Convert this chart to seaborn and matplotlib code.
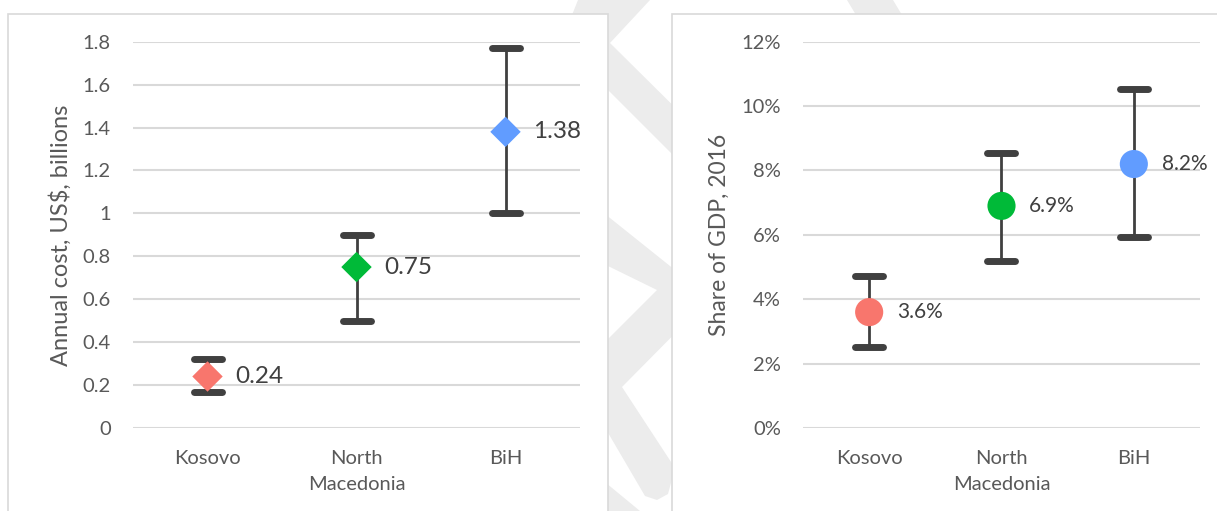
import numpy as np
import pandas as pd
import seaborn as sns
import matplotlib.pyplot as plt
from matplotlib.patches import Polygon, Rectangle
from matplotlib.transforms import Affine2D
from matplotlib.markers import MarkerStyle

sns.set_style("white")
plt.rcParams["font.family"] = ["Lato", "DejaVu Sans"]

# ---- data -------------------------------------------------------------
countries = ["Kosovo", "North\nMacedonia", "BiH"]
palette = ["#F8766D", "#00BA38", "#619CFF"]

cost_mid = [0.24, 0.75, 1.38]          # US$ billions
cost_low = [0.17, 0.50, 1.00]
cost_high = [0.32, 0.90, 1.77]
cost_ticks = [0, 0.2, 0.4, 0.6, 0.8, 1.0, 1.2, 1.4, 1.6, 1.8]

gdp_mid = [3.6, 6.9, 8.2]              # % of GDP, 2016
gdp_low = [2.53, 5.2, 5.93]
gdp_high = [4.73, 8.53, 10.54]
gdp_ticks = [0, 2, 4, 6, 8, 10, 12]

W, H = 1217, 511
fig = plt.figure(figsize=(W / 100, H / 100), dpi=100)
fig.patch.set_facecolor("white")

# pixel coordinates (origin top-left) for the page decoration
px = Affine2D().scale(1 / W, -1 / H).translate(0, 1) + fig.transFigure

wm = "#ececec"
shapes = [
    [(578, 0), (650, 0), (610, 43), (720, 152), (720, 202), (608, 90), (560, 45)],
    [(847, 0), (893, 0), (905, 20), (859, 20)],
    [(590, 202), (710, 298), (622, 387), (675, 468), (668, 494), (657, 500),
     (645, 496), (590, 402), (590, 357), (610, 337), (657, 290), (610, 267),
     (590, 257)],
    [(600, 478), (640, 511), (600, 511)],
]
for pts in shapes:
    fig.patches.append(Polygon(pts, closed=True, transform=px, facecolor=wm,
                               edgecolor="none", zorder=-3))

# chart panels
for x0, x1 in [(8, 608), (672, 1240)]:
    fig.patches.append(Rectangle((x0, 14), x1 - x0, 540, transform=px,
                                 facecolor="white", edgecolor="#d9d9d9",
                                 linewidth=1.2, zorder=-2))

txt = "#595959"
dark = "#404040"


def panel(rect, mid, low, high, ticks, ymax, fmt, tickfmt, marker, msize,
          ylabel, ylabel_size, label_size):
    ax = fig.add_axes(rect)
    ax.set_facecolor("none")
    df = pd.DataFrame({"country": countries, "value": mid})
    pos = np.arange(len(countries))
    mid_a, low_a, high_a = map(np.asarray, (mid, low, high))
    eb = ax.errorbar(pos, mid_a, yerr=[mid_a - low_a, high_a - mid_a],
                     fmt="none", ecolor=dark, elinewidth=2.0,
                     capsize=10, capthick=5, zorder=3)
    for cl in eb[1]:
        cl.set_marker(MarkerStyle("_", capstyle="round"))
    sns.scatterplot(data=df, x="country", y="value", hue="country",
                    palette=palette, marker=marker, s=msize, linewidth=0,
                    legend=False, ax=ax, zorder=4)
    for i, v in enumerate(mid):
        ax.annotate(fmt(v), (i, v), xytext=(20, 0), textcoords="offset points",
                    ha="left", va="center", fontsize=label_size, color=dark,
                    zorder=5)
    ax.set_xlim(-0.5, 2.5)
    ax.set_ylim(0, ymax)
    ax.set_yticks(ticks)
    ax.set_yticklabels([tickfmt(t) for t in ticks])
    ax.set_xticks(pos)
    ax.set_xticklabels(countries, linespacing=1.6)
    ax.yaxis.grid(True, color="#d9d9d9", linewidth=1.5)
    ax.set_axisbelow(True)
    for s in ax.spines.values():
        s.set_visible(False)
    ax.tick_params(axis="both", length=0, labelsize=14.5, colors=txt)
    ax.tick_params(axis="y", pad=16)
    ax.tick_params(axis="x", pad=16)
    ax.set_xlabel("")
    ax.set_ylabel(ylabel, fontsize=ylabel_size, color=txt, labelpad=8)
    return ax


bottom = 1 - 428 / H
height = (428 - 41.7) / H

panel([133 / W, bottom, 447 / W, height], cost_mid, cost_low, cost_high,
      cost_ticks, 1.8, lambda v: f"{v:.2f}",
      lambda t: f"{t:g}", "D", 240, "Annual cost, US$, billions", 17, 17.5)

panel([803 / W, bottom, 397 / W, height], gdp_mid, gdp_low, gdp_high,
      gdp_ticks, 12, lambda v: f"{v:.1f}%",
      lambda t: f"{t:g}%", "o", 410, "Share of GDP, 2016", 16.5, 15)

fig.savefig("out.png", dpi=100)
